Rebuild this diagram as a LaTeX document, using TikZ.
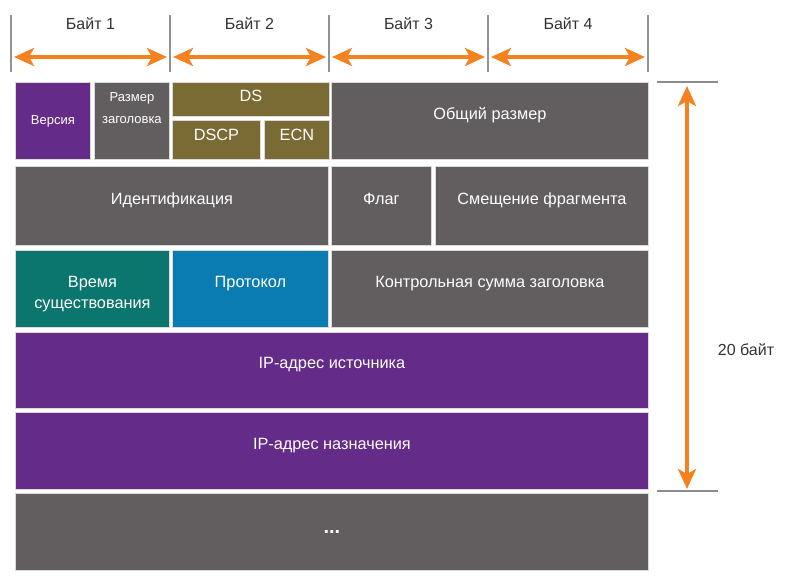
\documentclass[tikz,border=0pt]{standalone}
\usepackage{fontspec}
\setmainfont{Liberation Sans}
\usepackage{xcolor}
\usepackage{tikz}
\usetikzlibrary{arrows.meta}
\definecolor{ippurple}{HTML}{652B88}
\definecolor{ipgray}{HTML}{625E5F}
\definecolor{ipolive}{HTML}{7A6A34}
\definecolor{ipteal}{HTML}{0B766E}
\definecolor{ipblue}{HTML}{0A7CB1}
\definecolor{iporange}{HTML}{F5821F}
\definecolor{iptext}{HTML}{333333}

\tikzset{
  field/.style={draw=gray!30,line width=0.8pt,anchor=north west,inner sep=0pt,align=center,text=white,text height=12pt,text depth=15pt,font=\fontsize{16.3}{21}\selectfont},
  twoline/.style={field,text height=,text depth=},
  smallfield/.style={twoline,font=\fontsize{13}{22}\selectfont},
  span/.style={draw=iporange,line width=4pt,{Stealth[length=20pt,width=18pt,inset=5pt]}-{Stealth[length=20pt,width=18pt,inset=5pt]}},
  tickline/.style={draw=gray!85,line width=1.5pt},
  bytelabel/.style={text=iptext,font=\fontsize{16}{19}\selectfont}
}

\begin{document}
\begin{tikzpicture}[x=1pt,y=-1pt]
  \useasboundingbox (0,0) rectangle (805,579);

  % byte scale on top
  \foreach \x [count=\i from 0] in {11,170,329,488,648} {
    \draw[tickline] (\x,15) -- (\x,72);
    \coordinate (t\i) at (\x,57);
  }
  \foreach \i/\j in {0/1,1/2,2/3,3/4} {
    \draw[span,shorten <=3pt,shorten >=3pt] (t\i) -- (t\j);
    \path (t\i) -- node[bytelabel,yshift=33pt] (byte\j) {Байт \j} (t\j);
  }

  % header fields
  \node[smallfield,fill=ippurple,minimum width=75pt,minimum height=77pt] (ver) at (15,82) {Версия};
  \node[smallfield,fill=ipgray,minimum width=75pt,minimum height=77pt] (ihl) at (94,82)
    {\raisebox{10pt}[22pt][22pt]{\begin{tabular}{@{}c@{}}Размер\\заголовка\end{tabular}}};
  \node[field,fill=ipolive,minimum width=157pt,minimum height=34pt,text depth=8pt] (ds) at (172,82) {DS};
  \node[field,fill=ipolive,minimum width=88pt,minimum height=39pt,text depth=10pt] (dscp) at (172,120) {DSCP};
  \node[field,fill=ipolive,minimum width=65pt,minimum height=39pt,text depth=10pt] (ecn) at (264,120) {ECN};
  \node[field,fill=ipgray,minimum width=317pt,minimum height=77pt] (total) at (331,82) {Общий размер};

  \node[field,fill=ipgray,minimum width=313pt,minimum height=79pt] (ident) at (15,166) {Идентификация};
  \node[field,fill=ipgray,minimum width=100pt,minimum height=79pt] (flag) at (331,166) {Флаг};
  \node[field,fill=ipgray,minimum width=213pt,minimum height=79pt] (offset) at (435,166) {Смещение фрагмента};

  \node[twoline,fill=ipteal,minimum width=154pt,minimum height=77pt] (ttl) at (15,250)
    {\raisebox{-9pt}[21pt][21pt]{\begin{tabular}{@{}c@{}}Время\\существования\end{tabular}}};
  \node[field,fill=ipblue,minimum width=156pt,minimum height=77pt] (proto) at (172,250) {Протокол};
  \node[field,fill=ipgray,minimum width=317pt,minimum height=77pt] (csum) at (331,250) {Контрольная сумма заголовка};

  \node[field,fill=ippurple,minimum width=633pt,minimum height=76pt] (src) at (15,332) {IP-адрес источника};
  \node[field,fill=ippurple,minimum width=633pt,minimum height=77pt] (dst) at (15,412) {IP-адрес назначения};
  \node[twoline,fill=ipgray,minimum width=633pt,minimum height=77pt,font=\fontsize{20}{22}\selectfont\bfseries] (more) at (15,493) {...};

  % 20 byte height marker
  \draw[tickline,draw=gray!90] (657,82) -- (718,82);
  \draw[tickline,draw=gray!90] (657,491) -- (718,491);
  \coordinate (htop) at (687,82);
  \coordinate (hbot) at (687,491);
  \draw[span,shorten <=4pt,shorten >=2pt] (htop) -- (hbot);
  \node[bytelabel] (hlen) at (746,350) {20 байт};
\end{tikzpicture}
\end{document}
